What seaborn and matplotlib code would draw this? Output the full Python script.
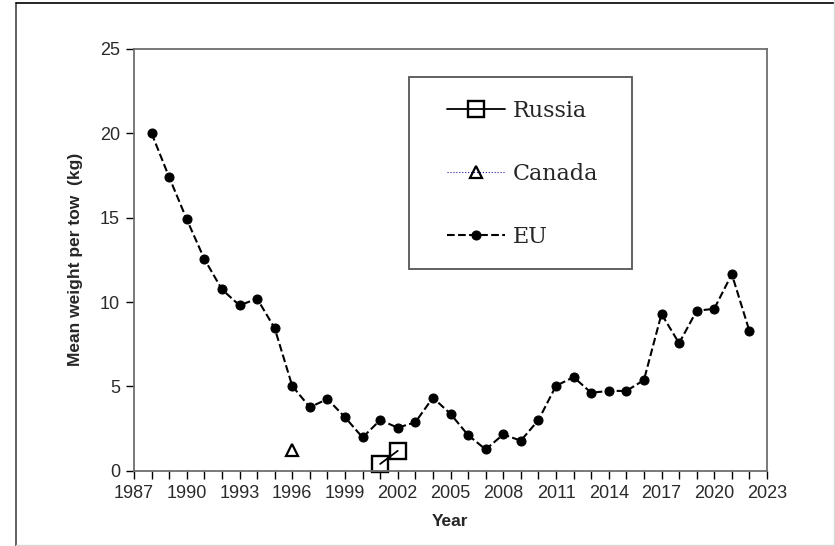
import matplotlib
matplotlib.use("Agg")
import matplotlib.pyplot as plt
from matplotlib.lines import Line2D
from matplotlib.patches import Rectangle
from matplotlib.ticker import MultipleLocator
import seaborn as sns
import pandas as pd

# data
eu_years = list(range(1988, 2023))
eu_values = [20.0, 17.4, 14.9, 12.55, 10.75, 9.8, 10.2, 8.45, 5.02, 3.76, 4.25, 3.17,
             1.97, 3.0, 2.55, 2.87, 4.33, 3.37, 2.11, 1.26, 2.15, 1.78, 3.0, 5.03,
             5.55, 4.62, 4.73, 4.73, 5.37, 9.29, 7.56, 9.48, 9.6, 11.65, 8.28]
russia_years = [2001, 2002]
russia_values = [0.4, 1.18]
canada_years = [1996]
canada_values = [1.22]
year_ticks = list(range(1987, 2024, 3))

sns.set_style("ticks")
plt.rcParams['font.family'] = ['Liberation Sans', 'DejaVu Sans']

fig = plt.figure(figsize=(8.35, 5.46), dpi=100)
ax = fig.add_axes([134/835, 1 - 470.7/546, (767 - 134)/835, (470.7 - 49)/546])

df_ru = pd.DataFrame({'Year': russia_years, 'w': russia_values})
df_ca = pd.DataFrame({'Year': canada_years, 'w': canada_values})
df_eu = pd.DataFrame({'Year': eu_years, 'w': eu_values})

sns.lineplot(data=df_ru, x='Year', y='w', ax=ax, color='black', lw=1.3,
             marker='s', markersize=12, markerfacecolor='none',
             markeredgecolor='black', markeredgewidth=1.7, label='Russia', clip_on=False)
sns.lineplot(data=df_ca, x='Year', y='w', ax=ax, color='#2020a0', lw=0.8, ls=':',
             marker='^', markersize=9, markerfacecolor='none',
             markeredgecolor='black', markeredgewidth=1.6, label='Canada', clip_on=False)
sns.lineplot(data=df_eu, x='Year', y='w', ax=ax, color='black', lw=1.5, ls='--',
             marker='o', markersize=6.5, markerfacecolor='black',
             markeredgecolor='black', label='EU', clip_on=False)

ax.set_xlim(1987, 2023)
ax.set_ylim(0, 25)
ax.set_xticks(year_ticks)
ax.xaxis.set_minor_locator(MultipleLocator(1))
ax.yaxis.set_major_locator(MultipleLocator(5))
ax.tick_params(axis='both', which='both', direction='out', length=6, width=1,
               color='black', labelsize=13, labelcolor='#2a2a2a', pad=4)
for s in ax.spines.values():
    s.set_color('#6e6e6e')
    s.set_linewidth(1.3)

ax.set_xlabel('Year', fontsize=12.5, fontweight='bold', labelpad=9)
ax.set_ylabel('Mean weight per tow  (kg)', fontsize=12.5, fontweight='bold', labelpad=12)

# legend box drawn at its place in the figure, entries placed inside
fig.add_artist(Rectangle((409/835, 1 - 269/546), (632 - 409)/835, (269 - 77)/546,
                         transform=fig.transFigure, fill=False,
                         edgecolor='#555555', lw=1.3))
leg = ax.legend(loc='upper left', bbox_to_anchor=(447/835, 1 - 100/546),
                bbox_transform=fig.transFigure, frameon=False,
                prop={'family': 'DejaVu Serif', 'size': 16},
                handlelength=2.6, handletextpad=0.35, labelspacing=1.85,
                borderpad=0, borderaxespad=0)

# outer frame around the picture
fig.add_artist(Line2D([16/835, 16/835], [0, 1 - 3/546], transform=fig.transFigure,
                      color='#444444', lw=1.2))
fig.add_artist(Line2D([16/835, 1], [1 - 3/546, 1 - 3/546], transform=fig.transFigure,
                      color='black', lw=1.2))
fig.add_artist(Line2D([833.5/835, 833.5/835], [0, 1], transform=fig.transFigure,
                      color='#d8d8d8', lw=1))
fig.add_artist(Line2D([16/835, 1], [1.5/546, 1.5/546], transform=fig.transFigure,
                      color='#d8d8d8', lw=1))

fig.savefig('out.png', dpi=100)
